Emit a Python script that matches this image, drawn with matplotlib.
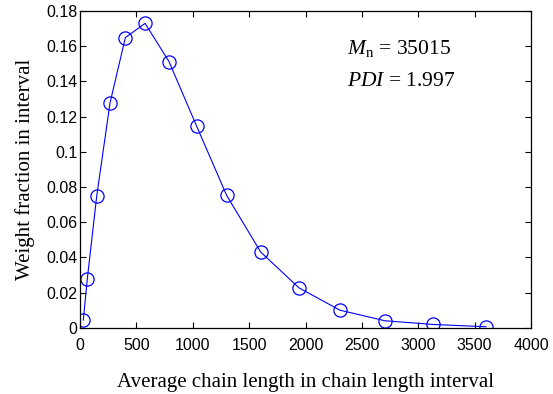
import numpy as np
import matplotlib.pyplot as plt
from matplotlib.ticker import FuncFormatter

plt.rcParams['mathtext.fontset'] = 'custom'
plt.rcParams['mathtext.rm'] = 'Liberation Serif'
plt.rcParams['mathtext.it'] = 'Liberation Serif:italic'

# chain length distribution (interval midpoints vs weight fraction)
chain_length = [29, 65, 148, 266, 402, 577, 789, 1035, 1301, 1602,
                1942, 2306, 2705, 3134, 3601]
weight_frac = [0.0044, 0.028, 0.0748, 0.1277, 0.1649, 0.173, 0.1513, 0.1145,
               0.0752, 0.0431, 0.0227, 0.0100, 0.0040, 0.0019, 0.0006]

x_ticks = [0, 500, 1000, 1500, 2000, 2500, 3000, 3500, 4000]
y_ticks = [0, 0.02, 0.04, 0.06, 0.08, 0.1, 0.12, 0.14, 0.16, 0.18]

fig = plt.figure(figsize=(5.53, 3.94), dpi=100)
ax = fig.add_axes([0.1447, 0.168, 0.8155, 0.804])

ax.plot(chain_length, weight_frac, '-o', color='#0000ff', lw=0.8,
        markersize=9.5, markerfacecolor='none', markeredgewidth=0.9)

ax.set_xlim(0, 4000)
ax.set_ylim(0, 0.18)
ax.set_xticks(x_ticks)
ax.set_yticks(y_ticks)
ax.yaxis.set_major_formatter(FuncFormatter(lambda v, p: f'{v:g}'))
ax.tick_params(direction='in', top=True, right=True, length=4, width=0.8,
               labelsize=11.5)
ax.tick_params(axis='x', pad=7)
ax.tick_params(axis='y', pad=2)
for lab in ax.get_xticklabels() + ax.get_yticklabels():
    lab.set_fontfamily('Liberation Sans')
for sp in ax.spines.values():
    sp.set_linewidth(0.9)

ax.set_xlabel('Average chain length in chain length interval',
              fontfamily='Liberation Serif', fontsize=15, labelpad=15)
ax.set_ylabel('Weight fraction in interval',
              fontfamily='Liberation Serif', fontsize=15, labelpad=8)

ax.text(0.592, 0.883, r'$M_{\rm n}$ = 35015', transform=ax.transAxes,
        fontfamily='Liberation Serif', fontsize=15.5, va='center')
ax.text(0.592, 0.776, r'$PDI$ = 1.997', transform=ax.transAxes,
        fontfamily='Liberation Serif', fontsize=15.5, va='center')

fig.savefig('out.png', dpi=100)
